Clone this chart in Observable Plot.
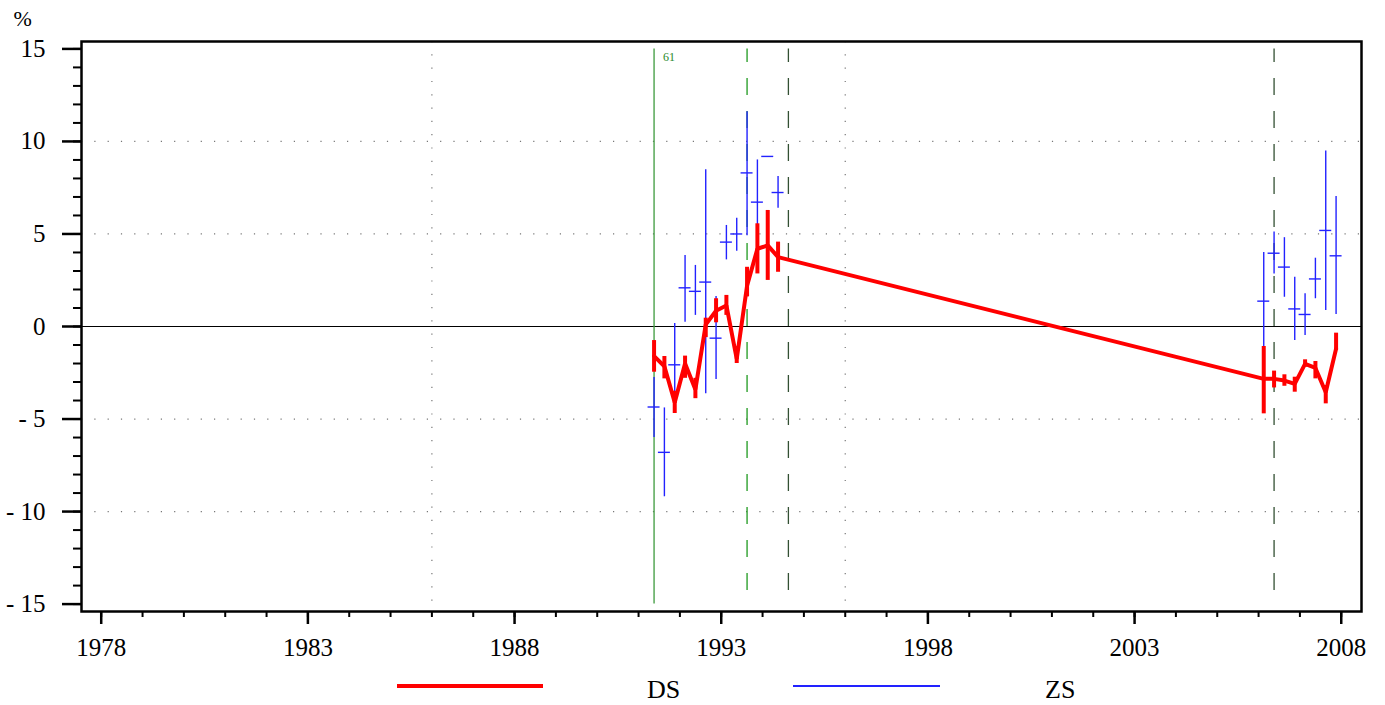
<!DOCTYPE html>
<html><head><meta charset="utf-8">
<script src="https://cdn.jsdelivr.net/npm/d3@7"></script>
<script src="https://cdn.jsdelivr.net/npm/@observablehq/plot@0.6"></script>
<style>
body{margin:0;background:#fff;font-family:"Liberation Serif","Times New Roman",serif}
#legend{position:relative;width:1385px;height:35px}
#legend .sw{position:absolute}
#legend .lb{position:absolute;font-family:"Liberation Serif","Times New Roman",serif;font-size:26px;line-height:26px;color:#000}
</style>
</head><body>
<div id="chart"></div>
<div id="legend"></div>
<script>
// Quarterly observation times (years)
const times1 = [1991.375,1991.625,1991.875,1992.125,1992.375,1992.625,1992.875,1993.125,1993.375,1993.625,1993.875,1994.125,1994.375];
const times2 = [2006.125,2006.375,2006.625,2006.875,2007.125,2007.375,2007.625,2007.875];

// DS (red) : value, upper, lower
const dsValue = [-1.6,-2.15,-4.1,-2.0,-3.4,0.1,0.85,1.14,-1.75,2.2,4.2,4.38,3.75,  -2.83,-2.83,-2.92,-3.1,-2.02,-2.24,-3.55,-1.2];
const dsHigh  = [-0.76,-1.62,-3.5,-1.6,-2.8,0.45,1.5,1.68,-1.1,3.2,5.55,6.27,4.56, -1.08,-2.41,-2.61,-2.74,-1.8,-1.89,-3.19,-0.36];
const dsLow   = [-2.47,-2.83,-4.7,-2.8,-3.9,-0.6,0.2,0.6,-2.0,1.6,2.84,2.49,2.93,  -4.72,-3.32,-3.23,-3.55,-2.2,-2.83,-4.18,-1.3];

// ZS (blue) : value, upper, lower
const zsValue = [-4.35,-6.8,-2.07,2.09,1.9,2.4,-0.63,4.56,5.0,8.3,6.72,9.19,7.24,  1.37,3.96,3.21,0.95,0.65,2.57,5.19,3.82];
const zsHigh  = [-2.76,-4.4,0.16,3.84,3.3,8.47,1.62,5.46,5.85,11.6,9.0,9.19,8.1,   4.0,5.1,4.8,2.66,1.77,3.69,9.48,7.03];
const zsLow   = [-6.0,-9.2,-4.2,0.23,0.6,-3.64,-2.86,3.6,4.07,4.9,4.43,9.19,6.39,   -1.3,2.84,1.58,-0.76,-0.49,1.5,0.86,0.65];

// Event markers
const eventSolid = [1991.375];
const eventSolidLabel = ["61"];
const eventDashedGreen = [1993.625];
const eventDashedDark = [1994.625, 2006.375];

// Axis ticks
const xMajor = [1978,1983,1988,1993,1998,2003,2008];
const xMinor = d3.range(1978, 2009, 1);
const yMajor = [-15,-10,-5,0,5,10,15];
const yMinor = d3.range(-15, 16, 1);
const yGrid = [-10,-5,5,10];
const xGrid = [1986,1996];

const times = times1.concat(times2);
const ds = times.map((t,i)=>({t, v: dsValue[i], hi: dsHigh[i], lo: dsLow[i]}));
const zs = times.map((t,i)=>({t, v: zsValue[i], hi: zsHigh[i], lo: zsLow[i]}));

const fmtY = d => d < 0 ? "- " + (-d) : String(d);
const HALF = 0.145;

const chart = Plot.plot({
  width: 1385,
  height: 670,
  marginLeft: 81,
  marginRight: 24,
  marginTop: 41,
  marginBottom: 59,
  style: {fontFamily: '"Liberation Serif","Times New Roman",serif', background: "#fff", color: "#000"},
  x: {domain: [1977.523, 2008.49]},
  y: {domain: [-15.4, 15.4]},
  marks: [
    Plot.ruleY(yGrid, {stroke: "#777", strokeWidth: 1.2, strokeDasharray: "1.2,12.1"}),
    Plot.ruleX(xGrid, {stroke: "#777", strokeWidth: 1.2, strokeDasharray: "1.2,12.1"}),
    Plot.ruleY([0], {stroke: "#000", strokeWidth: 1}),
    Plot.ruleX(eventSolid, {y1: 15, y2: -15, stroke: "#3c9a3c", strokeWidth: 1.3}),
    Plot.text(eventSolid, {x: d => d, y: 15, text: (d,i) => eventSolidLabel[i], dx: 9, dy: 8, textAnchor: "start", fill: "#2a8a2a", fontSize: 12}),
    Plot.ruleX(eventDashedGreen, {y1: 15, y2: -15, stroke: "#1f9a1f", strokeWidth: 1.3, strokeDasharray: "17,16", strokeDashoffset: 3.5}),
    Plot.ruleX(eventDashedDark, {y1: 15, y2: -15, stroke: "#335033", strokeWidth: 1.3, strokeDasharray: "17,16", strokeDashoffset: 3.5}),
    Plot.ruleX(zs, {x: "t", y1: "lo", y2: "hi", stroke: "#2222ff", strokeWidth: 1.4}),
    Plot.ruleY(zs, {y: "v", x1: d => d.t - HALF, x2: d => d.t + HALF, stroke: "#2222ff", strokeWidth: 1.4}),
    Plot.line(ds, {x: "t", y: "v", stroke: "#ff0000", strokeWidth: 4, strokeLinejoin: "miter"}),
    Plot.ruleX(ds, {x: "t", y1: "lo", y2: "hi", stroke: "#ff0000", strokeWidth: 4}),
    Plot.frame({stroke: "#000", strokeWidth: 2.5}),
    Plot.axisY({ticks: yMajor, tickSize: 19, tickPadding: 17, tickFormat: fmtY, fontSize: 25, label: null, strokeWidth: 2.5}),
    Plot.axisY({ticks: yMinor, tickSize: 8, tickFormat: () => "", label: null, strokeWidth: 2}),
    Plot.axisX({ticks: xMajor, tickSize: 13, tickPadding: 14, tickFormat: d => String(d), fontSize: 25, label: null, strokeWidth: 2.5}),
    Plot.axisX({ticks: xMinor, tickSize: 6, tickFormat: () => "", label: null, strokeWidth: 2}),
    Plot.text(["%"], {frameAnchor: "top-left", dx: -68, dy: -23, textAnchor: "start", lineAnchor: "middle", fontSize: 22})
  ]
});
document.getElementById("chart").appendChild(chart);

// Legend
const legendItems = [
  {name: "DS", color: "#ff0000", width: 4, lineLeft: 397, lineW: 146, textLeft: 647},
  {name: "ZS", color: "#2222ff", width: 1.4, lineLeft: 793, lineW: 147, textLeft: 1045}
];
const lg = document.getElementById("legend");
legendItems.forEach(it => {
  const s = document.createElement("div");
  s.className = "sw";
  s.style.left = it.lineLeft + "px";
  s.style.width = it.lineW + "px";
  s.style.height = it.width + "px";
  s.style.top = (16 - it.width/2) + "px";
  s.style.background = it.color;
  lg.appendChild(s);
  const t = document.createElement("div");
  t.className = "lb";
  t.style.left = it.textLeft + "px";
  t.style.top = "7px";
  t.textContent = it.name;
  lg.appendChild(t);
});
</script>
</body></html>
